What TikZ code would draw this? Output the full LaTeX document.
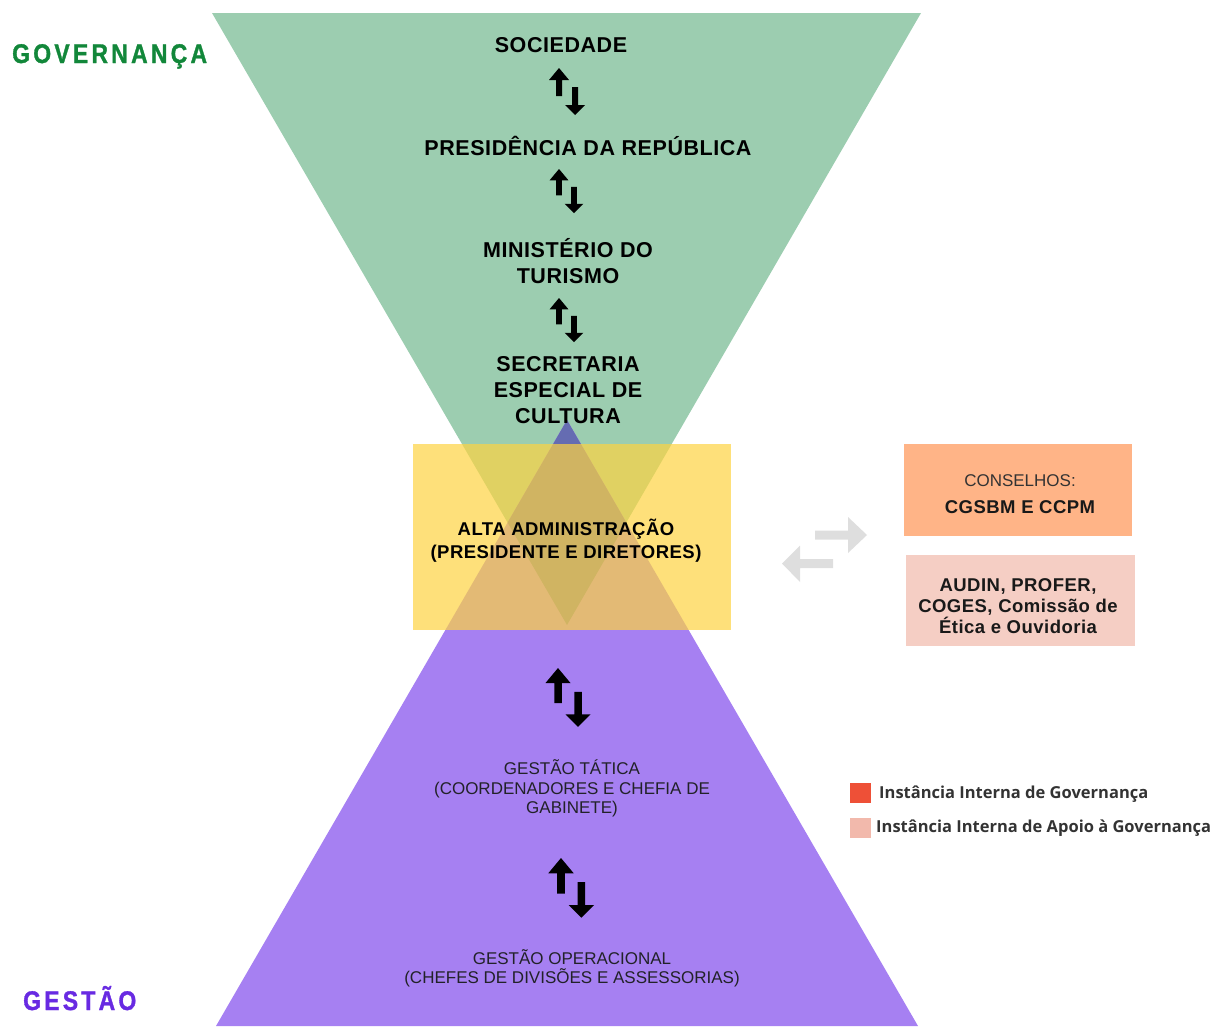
\documentclass[tikz,border=0pt]{standalone}
\usepackage{fontspec}
\setmainfont{Liberation Sans}
\newfontfamily\legendfont{Open Sans}
\newfontfamily\titlefont[LetterSpace=12,FakeStretch=0.85,FakeBold=1.2]{Liberation Sans}
\newfontfamily\spacedfont[LetterSpace=2.6]{Liberation Sans}
\definecolor{govgreen}{RGB}{156,205,176}
\definecolor{gespurple}{RGB}{166,128,242}
\definecolor{overlapblue}{RGB}{101,108,178}
\definecolor{altayellow}{RGB}{254,211,65}
\definecolor{conselho}{RGB}{255,180,135}
\definecolor{apoio}{RGB}{245,206,196}
\definecolor{legred}{RGB}{238,80,55}
\definecolor{legpink}{RGB}{242,185,172}
\definecolor{greyarrow}{RGB}{222,222,222}
\definecolor{govtitle}{RGB}{18,135,58}
\definecolor{gestitle}{RGB}{104,42,226}
\definecolor{darktext}{RGB}{34,34,40}
\tikzset{
  toptext/.style={font=\spacedfont\bfseries\fontsize{21.5}{26}\selectfont, align=center, text=black, inner sep=0pt},
  midtext/.style={font=\spacedfont\bfseries\fontsize{18.5}{23}\selectfont, align=center, text=black, inner sep=0pt},
  lowtext/.style={font=\fontsize{17}{19.5}\selectfont, align=center, text=darktext, inner sep=0pt},
  boxtext/.style={font=\spacedfont\bfseries\fontsize{18.5}{21}\selectfont, align=center, text=black!90, inner sep=0pt},
  legtext/.style={font=\legendfont\bfseries\fontsize{16.5}{18}\selectfont, anchor=west, text=black!80, inner sep=0pt},
  titletext/.style={font=\titlefont\bfseries\fontsize{27}{30}\selectfont, anchor=base west, inner sep=0pt},
  pics/updown/.style={code={
    \fill[black] (0,0) -- (10,12) -- (3,12) -- (3,28) -- (-3,28) -- (-3,12) -- (-10,12) -- cycle;
    \fill[black] (13,19) -- (19,19) -- (19,37) -- (26,37) -- (16,47) -- (6,37) -- (13,37) -- cycle;
  }}
}
\begin{document}
\begin{tikzpicture}[x=1pt,y=-1pt]
\useasboundingbox (0,0) rectangle (1215,1026);
% triangles
\fill[govgreen] (212,13) -- (921,13) -- (567,625) -- cycle;
\fill[gespurple] (567,420) -- (918,1026) -- (216,1026) -- cycle;
\begin{scope}
  \clip (212,13) -- (921,13) -- (567,625) -- cycle;
  \fill[overlapblue] (567,420) -- (918,1026) -- (216,1026) -- cycle;
\end{scope}
% alta administracao box
\fill[altayellow, opacity=0.7] (413,444) rectangle (731,630);

% titles
\node[titletext, text=govtitle] (gov) at (12,63) {GOVERNANÇA};
\node[titletext, text=gestitle] (ges) at (23,1010) {GESTÃO};

% governance chain
\node[toptext] (soc) at (561,45) {SOCIEDADE};
\node[toptext] (pres) at (588,146) {PRESIDÊNCIA DA REPÚBLICA};
\node[toptext] (min) at (568,261.5) {MINISTÉRIO DO\\TURISMO};
\node[toptext] (sec) at (568,390) {SECRETARIA\\ESPECIAL DE\\CULTURA};
\node[midtext] (alta) at (566,540.5) {ALTA ADMINISTRAÇÃO\\(PRESIDENTE E DIRETORES)};
\node[lowtext] (tat) at (572,788.5) {GESTÃO TÁTICA\\(COORDENADORES E CHEFIA DE\\GABINETE)};
\node[lowtext] (oper) at (572,968.5) {GESTÃO OPERACIONAL\\(CHEFES DE DIVISÕES E ASSESSORIAS)};

% up/down arrows
\pic at (559,68) {updown};
\pic[scale=0.94] at (559,169) {updown};
\pic[scale=0.94] at (559,298) {updown};
\pic[scale=1.25] at (558,668) {updown};
\pic[scale=1.27] at (561,858) {updown};

% right boxes
\fill[conselho] (904,444) rectangle (1132,536);
\node[font=\fontsize{17}{20}\selectfont, text=black!80, inner sep=0pt] (cons) at (1020,481) {CONSELHOS:};
\node[boxtext] (cgs) at (1020,507) {CGSBM E CCPM};
\fill[apoio] (906,555) rectangle (1135,646);
\node[boxtext] (aud) at (1018,606) {AUDIN, PROFER,\\COGES, Comissão de\\Ética e Ouvidoria};

% grey exchange arrows
\coordinate (ga1) at (815,535);
\coordinate (ga2) at (867,535);
\coordinate (gb1) at (833,563.5);
\coordinate (gb2) at (782,563.5);
\fill[greyarrow] (ga1) ++(0,-4.5) -- ++(33,0) -- ++(0,-13.5) -- (ga2) -- (848,553) -- (848,539.5) -- ++(-33,0) -- cycle;
\fill[greyarrow] (gb1) ++(0,-4.5) -- ++(-33,0) -- ++(0,-13.5) -- (gb2) -- (800,582) -- (800,568) -- (833,568) -- cycle;

% legend
\fill[legred] (850,783) rectangle (871,803);
\node[legtext] (leg1) at (879,794) {Instância Interna de Governança};
\fill[legpink] (850,818) rectangle (871,838);
\node[legtext] (leg2) at (876,828) {Instância Interna de Apoio à Governança};
\end{tikzpicture}
\end{document}
